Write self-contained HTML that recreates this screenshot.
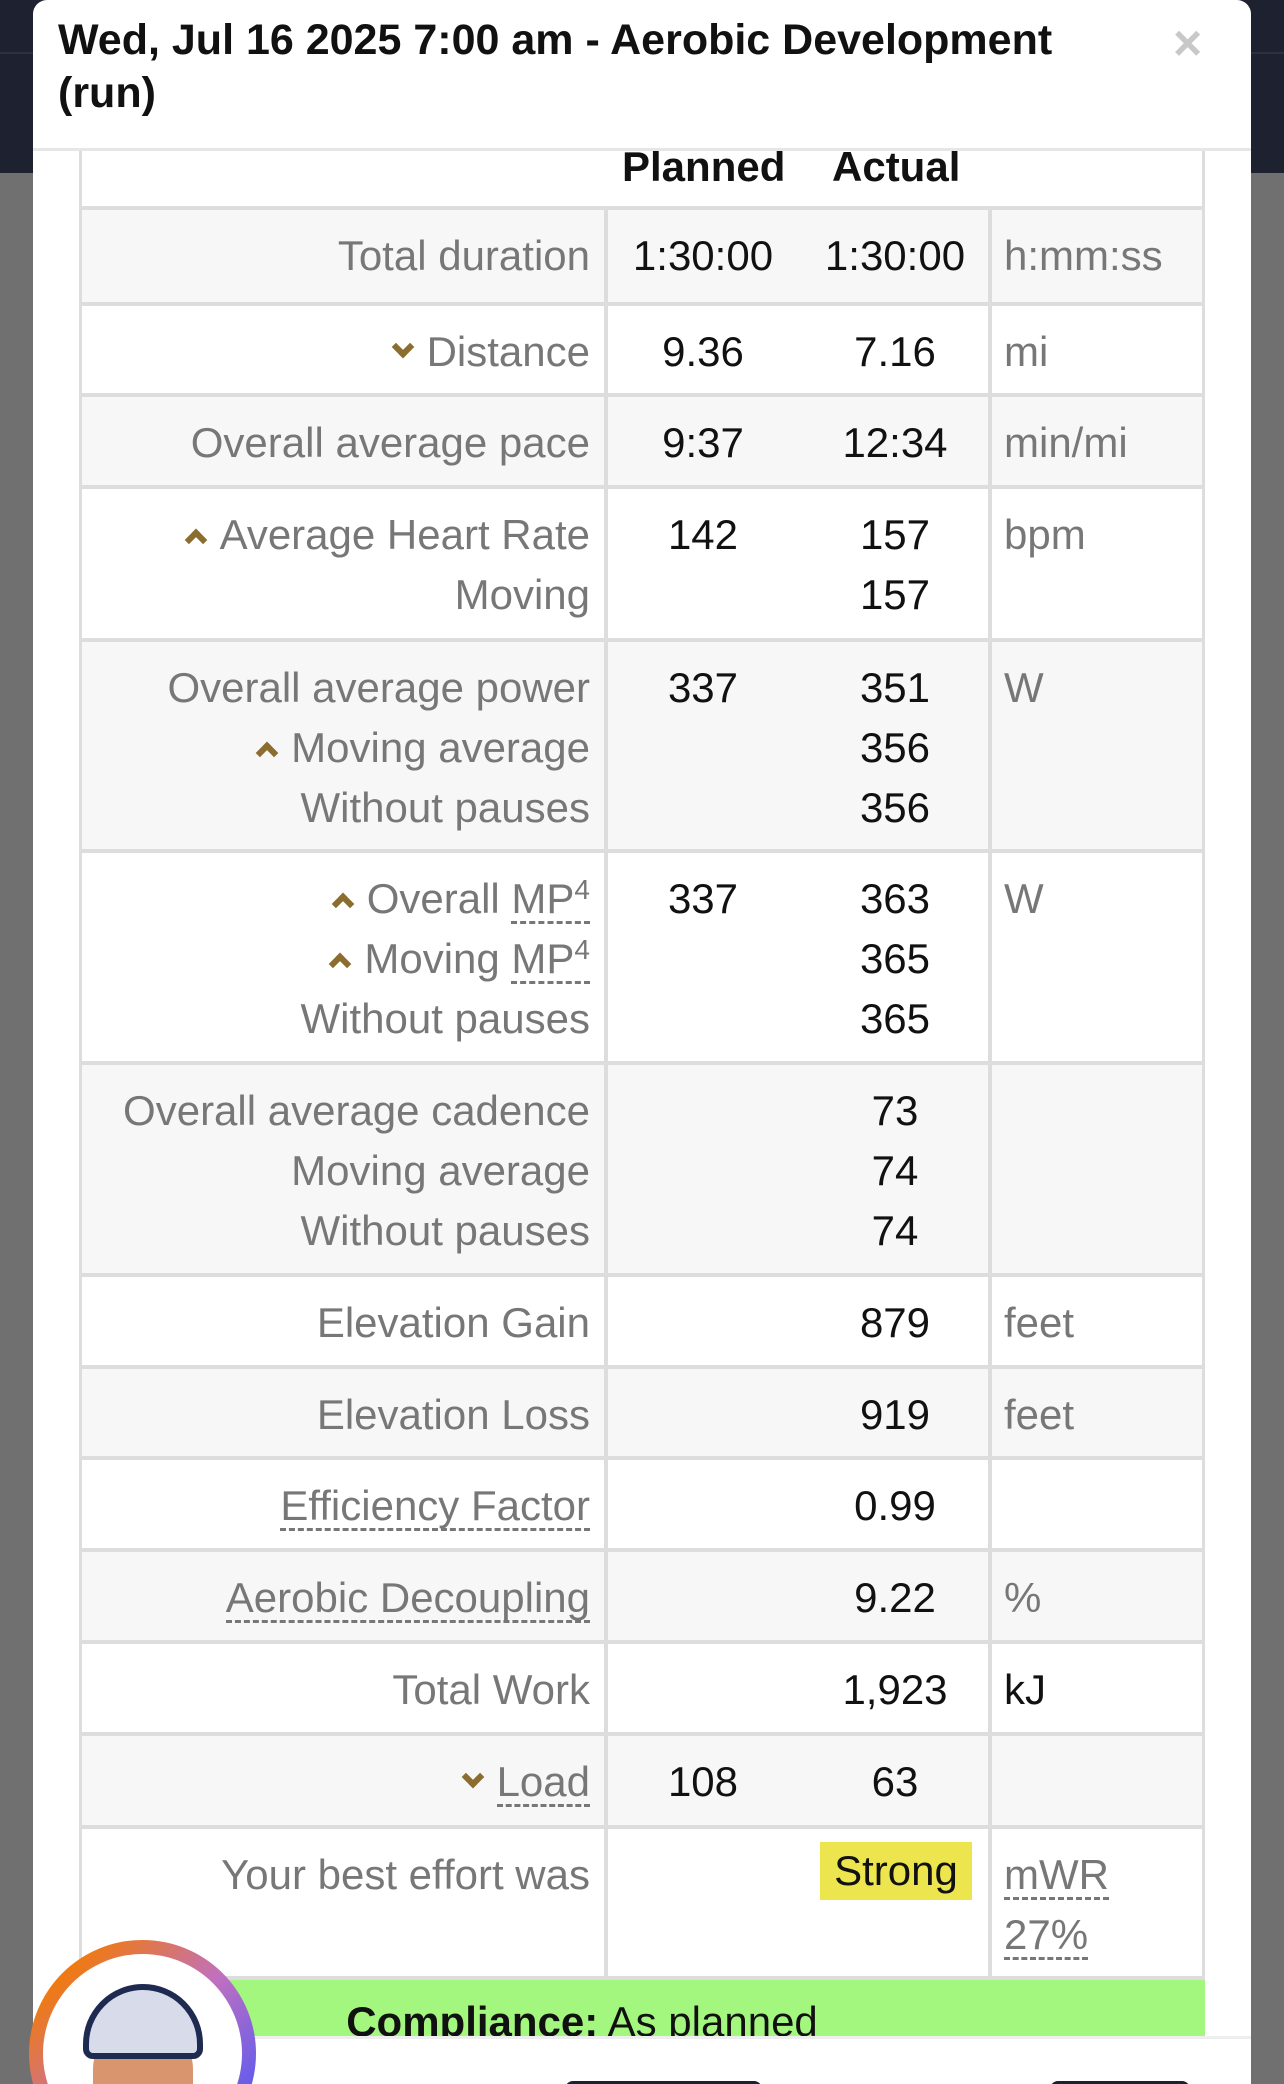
<!DOCTYPE html>
<html><head><meta charset="utf-8"><style>
*{margin:0;padding:0;box-sizing:border-box}
html{width:1284px;height:2084px;overflow:hidden}
body{width:1284px;height:2084px;overflow:hidden;position:relative;background:#707070;font-family:"Liberation Sans",sans-serif}
.topbg{position:absolute;left:0;top:0;width:1284px;height:173px;background:#1d2130}
.topbg:after{content:"";position:absolute;left:0;top:52px;width:1284px;height:2px;background:#2c3142}
.modal{position:absolute;left:33px;top:0;width:1218px;height:2084px;background:#fff;border-radius:14px 14px 0 0;overflow:hidden}
.title{position:absolute;left:25px;top:14px;font-size:43px;font-weight:bold;line-height:53px;color:#111;width:1050px}
.x{position:absolute;left:1140px;top:14px;font-size:50px;color:#c8c8c8;font-weight:bold}
.hline{position:absolute;left:0;top:148px;width:1218px;height:3px;background:#e6e6e6}
.row{position:absolute;left:79px;width:1126px;border-left:3px solid #ddd;border-right:3px solid #ddd;border-bottom:4px solid #ddd;font-size:42px;line-height:60px}
.g{background:#f7f7f7}.w{background:#fff}
.l{position:absolute;left:0;width:522px;top:16px;padding-right:14px;text-align:right;color:#777;white-space:nowrap}
.p,.a{position:absolute;top:16px;width:170px;text-align:center;color:#111}
.p{left:536px}.a{left:728px}
.u{position:absolute;left:922px;top:16px;color:#777}
.v1{position:absolute;left:522px;top:0;bottom:0;width:4px;background:#ddd}
.v2{position:absolute;left:906px;top:0;bottom:0;width:4px;background:#ddd}
.ch{display:inline-block;width:16px;height:16px;border-right:6px solid #8a6d2f;border-bottom:6px solid #8a6d2f;margin-right:16px;vertical-align:middle}
.dn{transform:translateY(-8px) rotate(45deg)}
.up{transform:translateY(2px) rotate(-135deg)}
.d{border-bottom:3px dashed #777;line-height:44px;display:inline-block}
sup{font-size:28px;vertical-align:14px;line-height:0}
.strong{position:absolute;left:738px;top:13px;width:152px;height:58px;background:#ede54d;text-align:center;color:#111;line-height:58px}
.comp{position:absolute;left:79px;top:1980px;width:1126px;height:60px;background:#a3f77f;text-align:center;font-size:42px;line-height:84px;color:#111;padding-right:120px}
.btn{position:absolute;top:42px;height:30px;background:#1d2130;border-radius:8px}
.av{position:absolute;left:29px;top:1940px;width:227px;height:227px;border-radius:50%;background:linear-gradient(135deg,#f07a10 15%,#c070c0 50%,#5a5af0 85%)}
.av2{position:absolute;left:14px;top:14px;width:199px;height:199px;border-radius:50%;background:#fff;overflow:hidden}
.face{position:absolute;left:50px;top:70px;width:100px;height:140px;border-radius:45px;background:#d8956e}
.cap{position:absolute;left:40px;top:30px;width:120px;height:75px;border-radius:60px 60px 10px 10px;background:#d8dcea;border:6px solid #1e2a50}
</style></head><body>
<div class="topbg"></div>
<div class="modal">
<div class="title">Wed, Jul 16 2025 7:00 am - Aerobic Development (run)</div>
<div class="x">×</div>
<div class="hline"></div>
</div>
<div style="position:absolute;left:79px;top:151px;width:1126px;height:59px;background:#fff;border-left:3px solid #ddd;border-right:3px solid #ddd;border-bottom:4px solid #ddd;overflow:hidden">
<div style="position:absolute;left:540px;top:-8px;font-size:42px;font-weight:bold;color:#111">Planned</div>
<div style="position:absolute;left:750px;top:-8px;font-size:42px;font-weight:bold;color:#111">Actual</div>
</div>

<div class="row g" style="top:210px;height:96px"><div class="l">Total duration</div><div class="v1"></div><div class="v2"></div><div class="p">1:30:00</div><div class="a">1:30:00</div><div class="u">h:mm:ss</div></div>
<div class="row w" style="top:306px;height:91px"><div class="l"><span class="ch dn"></span>Distance</div><div class="v1"></div><div class="v2"></div><div class="p">9.36</div><div class="a">7.16</div><div class="u">mi</div></div>
<div class="row g" style="top:397px;height:92px"><div class="l">Overall average pace</div><div class="v1"></div><div class="v2"></div><div class="p">9:37</div><div class="a">12:34</div><div class="u">min/mi</div></div>
<div class="row w" style="top:489px;height:153px"><div class="l"><span class="ch up"></span>Average Heart Rate<br>Moving</div><div class="v1"></div><div class="v2"></div><div class="p">142</div><div class="a">157<br>157</div><div class="u">bpm</div></div>
<div class="row g" style="top:642px;height:211px"><div class="l">Overall average power<br><span class="ch up"></span>Moving average<br>Without pauses</div><div class="v1"></div><div class="v2"></div><div class="p">337</div><div class="a">351<br>356<br>356</div><div class="u">W</div></div>
<div class="row w" style="top:853px;height:212px"><div class="l"><span class="ch up"></span>Overall <span class="d">MP<sup>4</sup></span><br><span class="ch up"></span>Moving <span class="d">MP<sup>4</sup></span><br>Without pauses</div><div class="v1"></div><div class="v2"></div><div class="p">337</div><div class="a">363<br>365<br>365</div><div class="u">W</div></div>
<div class="row g" style="top:1065px;height:212px"><div class="l">Overall average cadence<br>Moving average<br>Without pauses</div><div class="v1"></div><div class="v2"></div><div class="a">73<br>74<br>74</div></div>
<div class="row w" style="top:1277px;height:92px"><div class="l">Elevation Gain</div><div class="v1"></div><div class="v2"></div><div class="a">879</div><div class="u">feet</div></div>
<div class="row g" style="top:1369px;height:91px"><div class="l">Elevation Loss</div><div class="v1"></div><div class="v2"></div><div class="a">919</div><div class="u">feet</div></div>
<div class="row w" style="top:1460px;height:92px"><div class="l"><span class="d">Efficiency Factor</span></div><div class="v1"></div><div class="v2"></div><div class="a">0.99</div></div>
<div class="row g" style="top:1552px;height:92px"><div class="l"><span class="d">Aerobic Decoupling</span></div><div class="v1"></div><div class="v2"></div><div class="a">9.22</div><div class="u">%</div></div>
<div class="row w" style="top:1644px;height:92px"><div class="l">Total Work</div><div class="v1"></div><div class="v2"></div><div class="a">1,923</div><div class="u" style="color:#111">kJ</div></div>
<div class="row g" style="top:1736px;height:93px"><div class="l"><span class="ch dn"></span><span class="d">Load</span></div><div class="v1"></div><div class="v2"></div><div class="p">108</div><div class="a">63</div></div>
<div class="row w" style="top:1829px;height:151px"><div class="l">Your best effort was</div><div class="v1"></div><div class="v2"></div><div class="strong">Strong</div><div class="u"><span class="d">mWR</span><br><span class="d">27%</span></div></div>
<div class="comp"><b>Compliance:</b> As planned</div>
<div style="position:absolute;left:33px;top:2036px;width:1218px;height:48px;background:#fff;border-top:3px solid #eee;overflow:hidden">
<div class="btn" style="left:532px;width:197px"></div>
<div class="btn" style="left:1017px;width:140px"></div>
</div>
<div class="av"><div class="av2"><div class="face"></div><div class="cap"></div></div></div>
</body></html>
